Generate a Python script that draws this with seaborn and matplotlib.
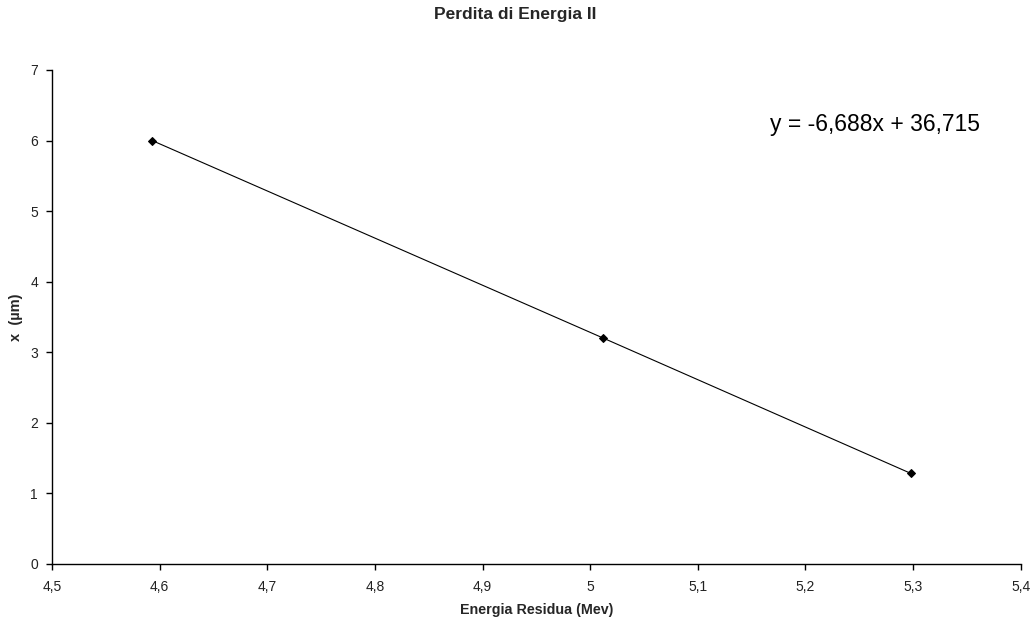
import matplotlib
matplotlib.use("Agg")
import matplotlib.pyplot as plt
import matplotlib.ticker as mticker
import seaborn as sns
import pandas as pd

energia = [4.593, 5.012, 5.298]
spessore = [6.0, 3.2, 1.28]
title = "Perdita di Energia II"
xlabel = "Energia Residua (Mev)"
ylabel = "x  (µm)"
equation = "y = -6,688x + 36,715"

sns.set_theme(style="white")
plt.rcParams['font.family'] = ['Liberation Sans', 'DejaVu Sans']

df = pd.DataFrame({"E": energia, "x": spessore})

fig = plt.figure(figsize=(10.31, 6.22), dpi=100)
ax = fig.add_axes([0.0504, 0.0937, 0.9396, 0.7938])

sns.lineplot(data=df, x="E", y="x", ax=ax, color="black", linewidth=0.8,
             marker="D", markersize=4.5, markeredgecolor="black", markerfacecolor="black")

ax.set_xlim(4.5, 5.4)
ax.set_ylim(0, 7)
ax.xaxis.set_major_locator(mticker.MultipleLocator(0.1))
ax.yaxis.set_major_locator(mticker.MultipleLocator(1))
fmt = mticker.FuncFormatter(lambda v, p: f"{round(v, 2):g}".replace(".", ","))
ax.xaxis.set_major_formatter(fmt)
ax.yaxis.set_major_formatter(fmt)

for s in ["top", "right"]:
    ax.spines[s].set_visible(False)
for s in ["left", "bottom"]:
    ax.spines[s].set_color("black")
    ax.spines[s].set_linewidth(1.0)
ax.tick_params(axis="both", direction="out", length=4, width=1, color="black",
               labelsize=10, labelcolor="#222222", bottom=True, left=True)
ax.tick_params(axis="x", pad=8)
ax.tick_params(axis="y", pad=6)

ax.set_xlabel(xlabel, fontsize=10.3, fontweight="bold", labelpad=6)
ax.set_ylabel(ylabel, fontsize=10.5, fontweight="bold", labelpad=5)
fig.suptitle(title, fontsize=12.5, fontweight="bold", x=0.5, y=0.988)

ax.text(0.8496, 0.889, equation, transform=ax.transAxes, fontsize=16.5,
        ha="center", va="center", color="black")

fig.savefig("out.png", dpi=100, facecolor="white")
